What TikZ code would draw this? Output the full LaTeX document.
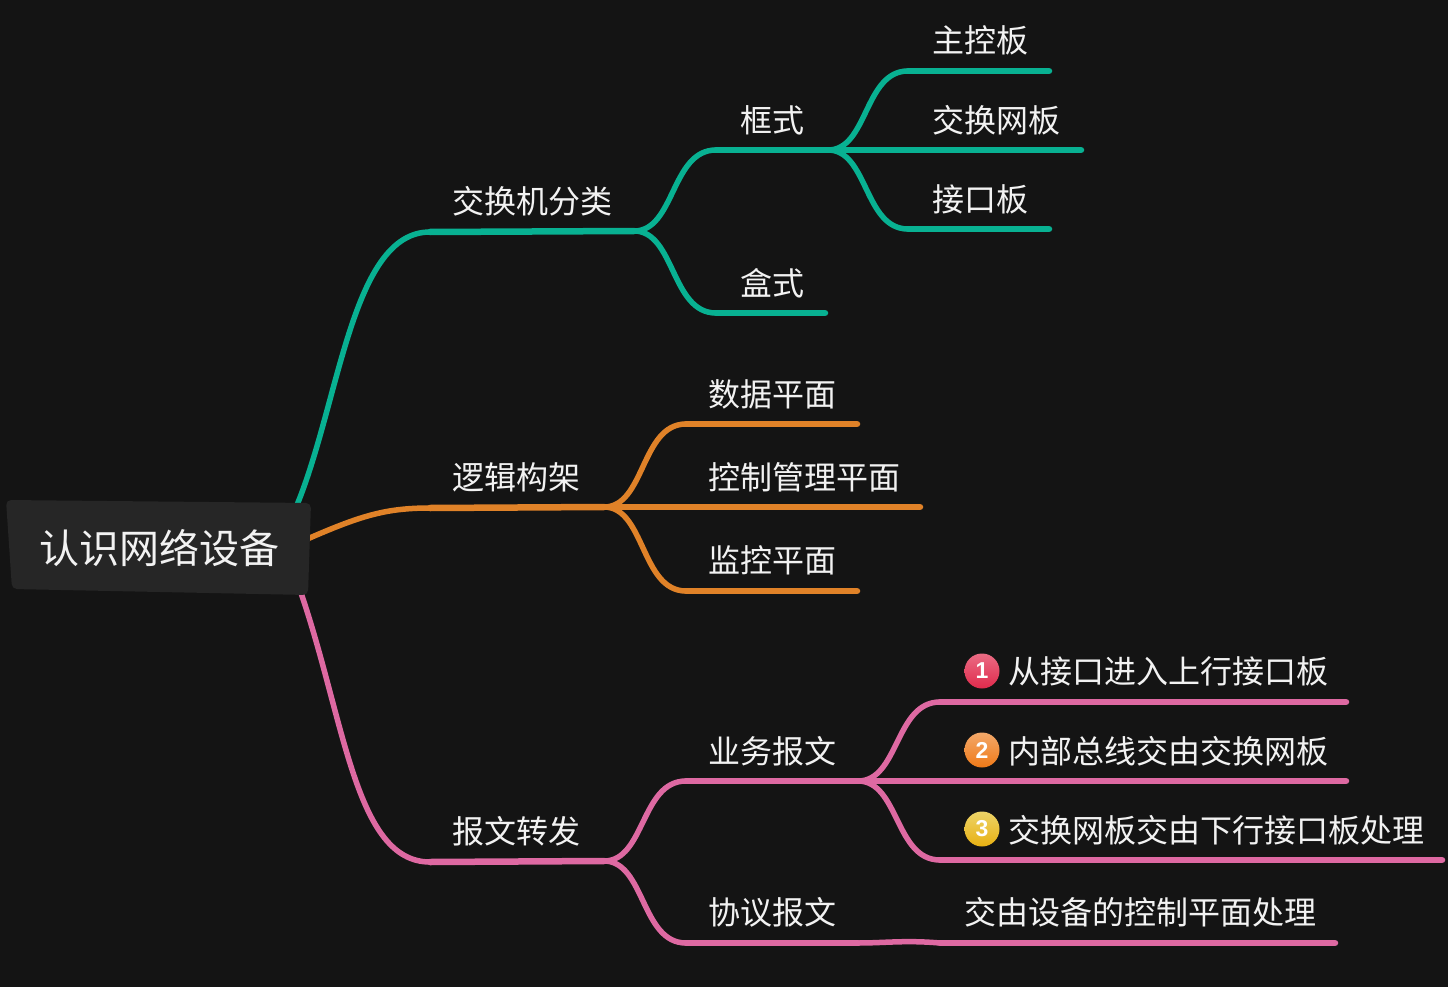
\documentclass[tikz,border=0pt]{standalone}
\usepackage{fontspec}
\setmainfont{Noto Sans CJK SC}
\newfontfamily\numfont{Liberation Sans}
\usetikzlibrary{calc}

\definecolor{bgcol}{HTML}{141414}
\definecolor{rootcol}{HTML}{262626}
\definecolor{txtcol}{HTML}{F2F2F2}
\definecolor{tealcol}{HTML}{08B192}
\definecolor{orangecol}{HTML}{E08228}
\definecolor{pinkcol}{HTML}{DE69A2}
\definecolor{redtop}{HTML}{EA6C84}
\definecolor{redbot}{HTML}{E02A4C}
\definecolor{orgtop}{HTML}{F2A86A}
\definecolor{orgbot}{HTML}{F07A18}
\definecolor{yeltop}{HTML}{EDD468}
\definecolor{yelbot}{HTML}{E8B012}

\tikzset{
    lab/.style={anchor=west,inner sep=0pt,text=txtcol,font=\fontsize{32}{32}\selectfont},
    rootlab/.style={anchor=center,inner sep=0pt,text=txtcol,font=\fontsize{40}{40}\selectfont},
    branch/.style={line width=5.5pt,line cap=round,line join=round},
    stem/.style={line width=6.5pt,line cap=round,line join=round},
    badge/.style={circle,minimum size=35pt,inner sep=0pt,text=white,font=\fontsize{23}{23}\numfont\bfseries\selectfont},
    fork/.style={to path={.. controls ($(\tikztostart)!0.5!(\tikztotarget |- \tikztostart)$) and ($(\tikztotarget)!0.55!(\tikztostart |- \tikztotarget)$) .. (\tikztotarget)}}
}

\begin{document}
\begin{tikzpicture}[x=1pt,y=-1pt]

\useasboundingbox (0,0) rectangle (1448,987);
\fill[bgcol] (0,0) rectangle (1448,987);

% teal
\coordinate (r1) at (297,505);
\coordinate (a0) at (430,232);
\coordinate (a1) at (634,231);
\coordinate (b0) at (716,150);
\coordinate (b1) at (828,150);
\coordinate (c0) at (908,71);
\coordinate (c1) at (1049,71);
\coordinate (d0) at (908,150);
\coordinate (d1) at (1081,150);
\coordinate (e0) at (908,229);
\coordinate (e1) at (1049,229);
\coordinate (f0) at (716,313);
\coordinate (f1) at (825,313);

\draw[branch,tealcol] (r1) .. controls (340,400) and (352,232) .. (a0);
\draw[stem,tealcol] (a0) -- (a1);
\draw[branch,tealcol] (a1) to[fork] (b0);
\draw[stem,tealcol] (b0) -- (b1);
\draw[branch,tealcol] (a1) to[fork] (f0);
\draw[stem,tealcol] (f0) -- (f1);
\draw[branch,tealcol] (b1) to[fork] (c0);
\draw[stem,tealcol] (c0) -- (c1);
\draw[stem,tealcol] (b1) -- (d0) -- (d1);
\draw[branch,tealcol] (b1) to[fork] (e0);
\draw[stem,tealcol] (e0) -- (e1);

% orange
\coordinate (r2) at (305,540);
\coordinate (g0) at (430,508);
\coordinate (g1) at (604,507);
\coordinate (h0) at (686,424);
\coordinate (h1) at (857,424);
\coordinate (i0) at (686,507);
\coordinate (i1) at (920,507);
\coordinate (j0) at (686,591);
\coordinate (j1) at (857,591);

\draw[branch,orangecol] (r2) .. controls (360,516) and (385,508) .. (g0);
\draw[stem,orangecol] (g0) -- (g1);
\draw[branch,orangecol] (g1) to[fork] (h0);
\draw[stem,orangecol] (h0) -- (h1);
\draw[stem,orangecol] (g1) -- (i0) -- (i1);
\draw[branch,orangecol] (g1) to[fork] (j0);
\draw[stem,orangecol] (j0) -- (j1);

% pink
\coordinate (r3) at (300,590);
\coordinate (k0) at (430,862);
\coordinate (k1) at (604,861);
\coordinate (l0) at (686,781);
\coordinate (l1) at (858,781);
\coordinate (m0) at (940,702);
\coordinate (m1) at (1346,702);
\coordinate (n0) at (940,781);
\coordinate (n1) at (1346,781);
\coordinate (o0) at (940,860);
\coordinate (o1) at (1442,860);
\coordinate (p0) at (686,943);
\coordinate (p1) at (858,943);
\coordinate (q0) at (940,943);
\coordinate (q1) at (1335,943);

\draw[branch,pinkcol] (r3) .. controls (345,720) and (355,862) .. (k0);
\draw[stem,pinkcol] (k0) -- (k1);
\draw[branch,pinkcol] (k1) to[fork] (l0);
\draw[stem,pinkcol] (l0) -- (l1);
\draw[branch,pinkcol] (k1) to[fork] (p0);
\draw[stem,pinkcol] (p0) -- (p1);
\draw[branch,pinkcol] (l1) to[fork] (m0);
\draw[stem,pinkcol] (m0) -- (m1);
\draw[stem,pinkcol] (l1) -- (n0) -- (n1);
\draw[branch,pinkcol] (l1) to[fork] (o0);
\draw[stem,pinkcol] (o0) -- (o1);
\draw[branch,pinkcol] (p1) .. controls (885,943) and (905,940) .. (q0);
\draw[stem,pinkcol] (q0) -- (q1);

% root
\fill[rootcol,rounded corners=5pt] (6,500) -- (311,503) -- (308,595) -- (12,589) -- cycle;
\node[rootlab] (root) at (159,548) {认识网络设备};

\node[lab] (switchtype) at (452,201) {交换机分类};
\node[lab] (chassis) at (740,120) {框式};
\node[lab] (mainboard) at (932.5,40) {主控板};
\node[lab] (fabric) at (932.5,120) {交换网板};
\node[lab] (portboard) at (932.5,199) {接口板};
\node[lab] (boxtype) at (740,283) {盒式};

\node[lab] (logic) at (452,477) {逻辑构架};
\node[lab] (dataplane) at (708.5,394) {数据平面};
\node[lab] (ctrlplane) at (708.5,477) {控制管理平面};
\node[lab] (monplane) at (708.5,560) {监控平面};

\node[lab] (forward) at (452,831.5) {报文转发};
\node[lab] (service) at (708.5,751) {业务报文};
\node[lab] (protocol) at (708.5,912) {协议报文};

\node[badge,top color=redtop,bottom color=redbot] (one) at (982,671) {1};
\node[badge,top color=orgtop,bottom color=orgbot] (two) at (982,750) {2};
\node[badge,top color=yeltop,bottom color=yelbot] (three) at (982,829) {3};

\node[lab] (stepone) at (1008,671) {从接口进入上行接口板};
\node[lab] (steptwo) at (1008,751) {内部总线交由交换网板};
\node[lab] (stepthree) at (1008,830) {交换网板交由下行接口板处理};
\node[lab] (toctrl) at (964,912) {交由设备的控制平面处理};

\end{tikzpicture}
\end{document}
